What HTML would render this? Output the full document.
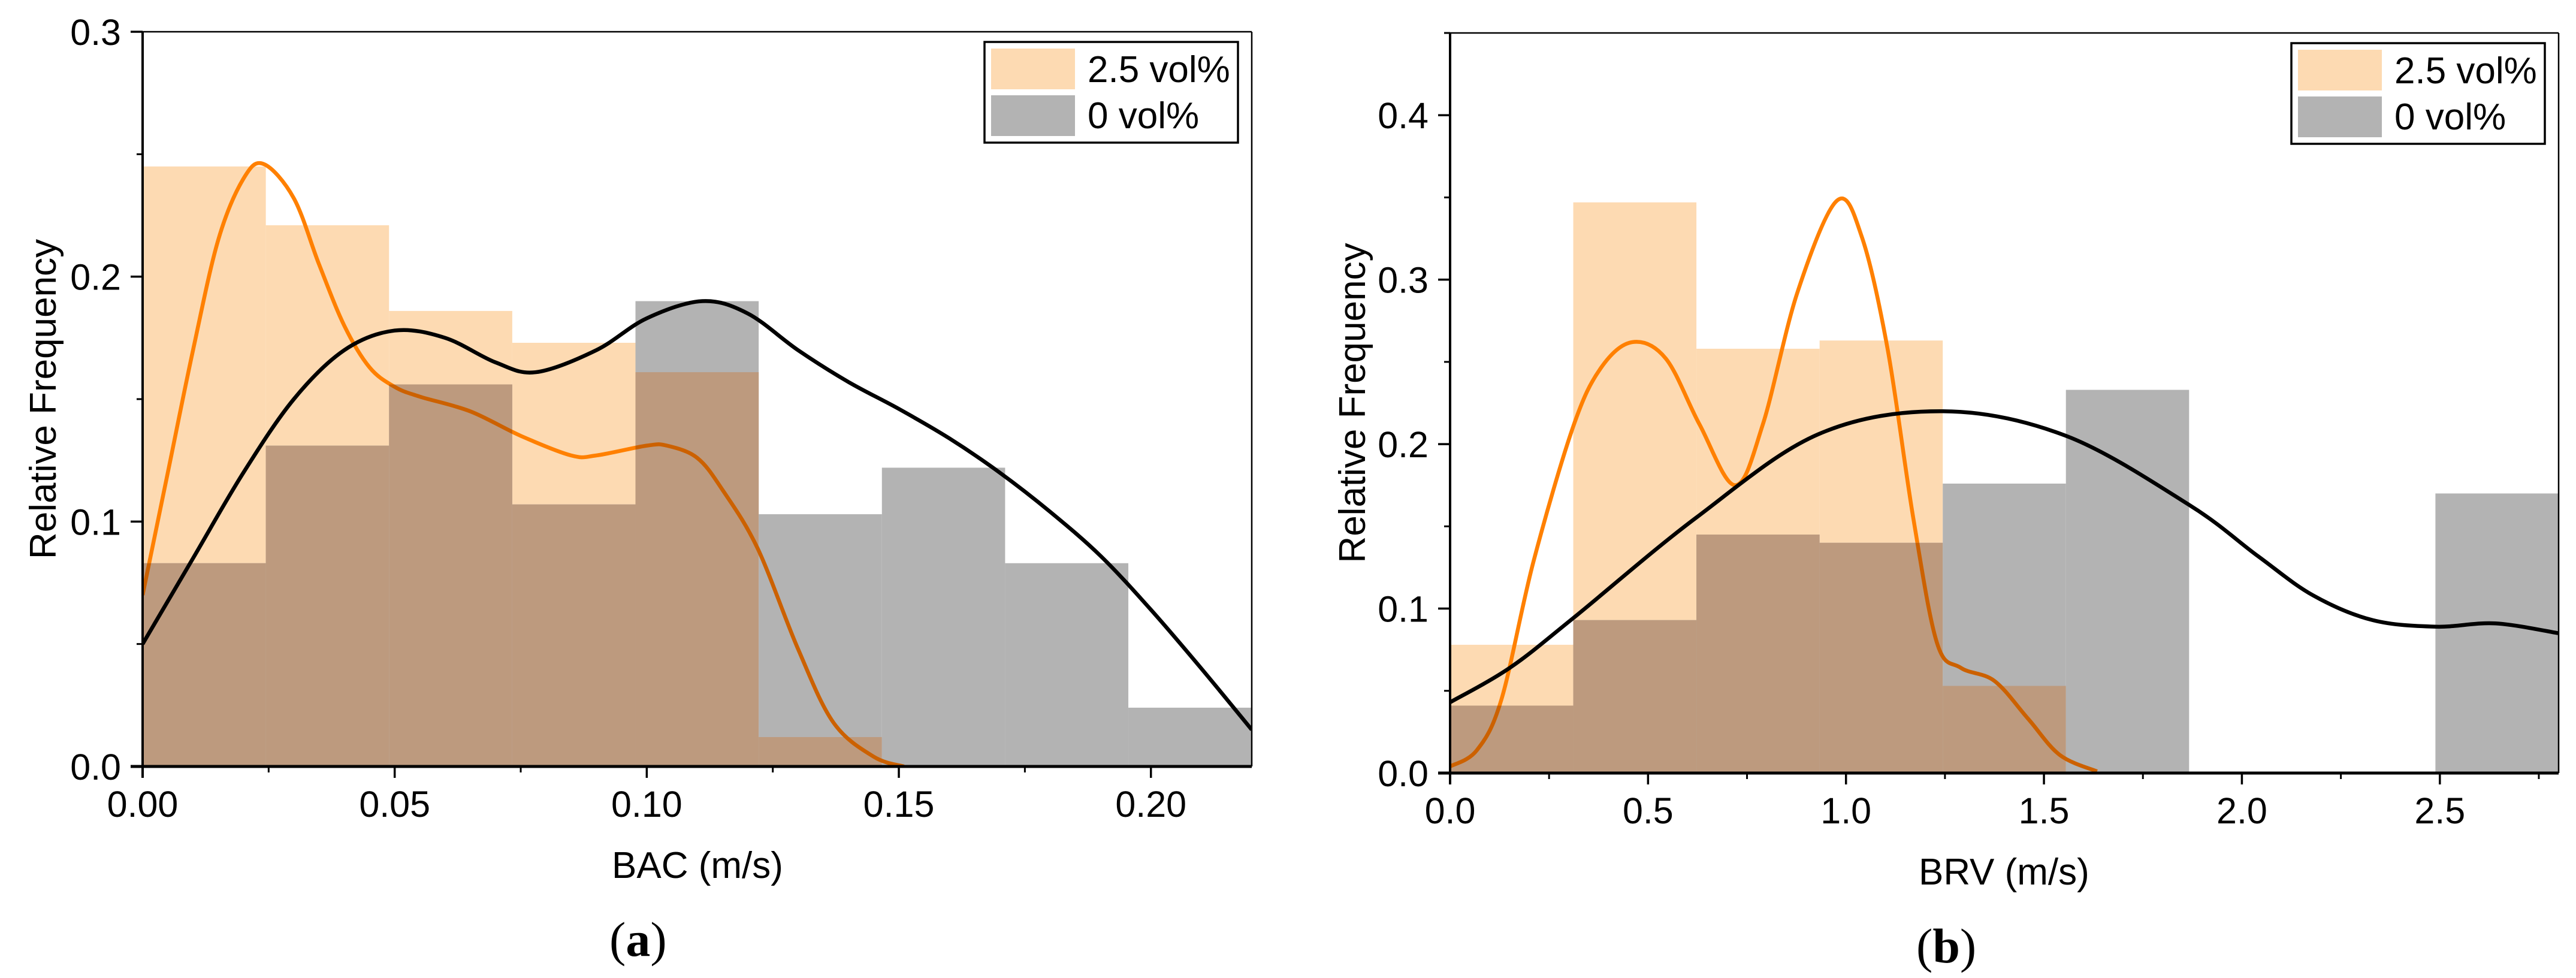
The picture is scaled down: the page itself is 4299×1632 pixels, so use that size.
<!DOCTYPE html>
<html><head><meta charset="utf-8"><style>
html,body{margin:0;padding:0;background:#fff;}
svg{display:block;}
text{font-family:"Liberation Sans",Arial,sans-serif;fill:#000;}
</style></head>
<body>
<svg id="fig" width="4299" height="1632" viewBox="0 0 4299 1632" xmlns="http://www.w3.org/2000/svg">
<defs></defs>
</svg>
<script>
// ---- Chart A data (BAC) ----
const aBinWidth = 0.02444;
const aOrangeHist = [0.245,0.221,0.186,0.173,0.161,0.012,0,0,0];
const aGrayHist = [0.083,0.131,0.156,0.107,0.190,0.103,0.122,0.083,0.024];
const aOrangeCurveX = [0,0.005,0.01,0.015,0.02,0.024,0.03,0.035,0.04,0.045,0.05,0.055,0.065,0.075,0.085,0.09,0.1,0.104,0.11,0.115,0.122,0.13,0.137,0.145,0.151];
const aOrangeCurveY = [0.070,0.12,0.17,0.215,0.24,0.246,0.232,0.205,0.180,0.163,0.155,0.151,0.145,0.135,0.127,0.127,0.131,0.131,0.126,0.113,0.089,0.048,0.018,0.004,0];
const aBlackCurveX = [0,0.01,0.02,0.03,0.04,0.05,0.06,0.07,0.078,0.09,0.1,0.111,0.12,0.13,0.14,0.15,0.16,0.17,0.18,0.19,0.2,0.21,0.22];
const aBlackCurveY = [0.05,0.085,0.12,0.15,0.17,0.178,0.175,0.165,0.161,0.17,0.183,0.19,0.185,0.170,0.157,0.146,0.134,0.120,0.104,0.086,0.064,0.040,0.015];
const aXTicks = [0,0.05,0.10,0.15,0.20];
const aXTickLabels = ["0.00","0.05","0.10","0.15","0.20"];
const aYTicks = [0,0.1,0.2,0.3];
const aYTickLabels = ["0.0","0.1","0.2","0.3"];

// ---- Chart B data (BRV) ----
const bBinWidth = 0.3111;
const bOrangeHist = [0.078,0.347,0.258,0.263,0.053,0,0,0,0];
const bGrayHist = [0.041,0.093,0.145,0.140,0.176,0.233,0,0,0.170];
const bOrangeCurveX = [0,0.068,0.13,0.21,0.31,0.38,0.46,0.545,0.63,0.72,0.79,0.877,0.977,1.04,1.105,1.17,1.23,1.29,1.375,1.46,1.54,1.634];
const bOrangeCurveY = [0.004,0.014,0.045,0.128,0.21,0.246,0.262,0.252,0.212,0.175,0.212,0.292,0.348,0.326,0.258,0.155,0.079,0.064,0.056,0.033,0.011,0.001];
const bBlackCurveX = [0,0.151,0.31,0.62,0.93,1.245,1.556,1.867,2.04,2.18,2.33,2.49,2.64,2.8];
const bBlackCurveY = [0.043,0.064,0.094,0.155,0.206,0.22,0.205,0.163,0.132,0.108,0.093,0.089,0.091,0.085];
const bXTicks = [0,0.5,1.0,1.5,2.0,2.5];
const bXTickLabels = ["0.0","0.5","1.0","1.5","2.0","2.5"];
const bYTicks = [0,0.1,0.2,0.3,0.4];
const bYTickLabels = ["0.0","0.1","0.2","0.3","0.4"];

const NS = "http://www.w3.org/2000/svg";
const svg = document.getElementById('fig');
const defs = svg.querySelector('defs');
function mk(tag, attrs, parent){
  const e = document.createElementNS(NS, tag);
  for (const k in attrs) e.setAttribute(k, attrs[k]);
  (parent||svg).appendChild(e);
  return e;
}
function smooth(pts){
  let d = "M"+pts[0][0]+","+pts[0][1];
  for(let i=0;i<pts.length-1;i++){
    const p0=pts[Math.max(0,i-1)],p1=pts[i],p2=pts[i+1],p3=pts[Math.min(pts.length-1,i+2)];
    const c1x=p1[0]+(p2[0]-p0[0])/6, c1y=p1[1]+(p2[1]-p0[1])/6;
    const c2x=p2[0]-(p3[0]-p1[0])/6, c2y=p2[1]-(p3[1]-p1[1])/6;
    d+=" C"+c1x+","+c1y+" "+c2x+","+c2y+" "+p2[0]+","+p2[1];
  }
  return d;
}

function drawChart(cfg){
  const g = mk('g',{});
  
  
  const X = v => cfg.x0 + (v - 0)/(cfg.xmax) * (cfg.x1 - cfg.x0);
  const Y = v => cfg.y0 - v/cfg.ymax * (cfg.y0 - cfg.y1);
  const cp = mk('clipPath',{id:cfg.id+'-plotclip'},defs);
  mk('rect',{x:cfg.x0,y:cfg.y1,width:cfg.x1-cfg.x0,height:cfg.y0-cfg.y1},cp);
  const gc = mk('clipPath',{id:cfg.id+'-grayclip'},defs);
  cfg.orange.forEach((v,i)=>{
    if(v<=0) return;
    const r = mk('rect',{x:X(i*cfg.bw),y:Y(v),width:X((i+1)*cfg.bw)-X(i*cfg.bw),height:Y(0)-Y(v),fill:'#FDDAB2'},g);
    
    
  });
  const oPts = cfg.ocx.map((x,i)=>[X(x),Y(cfg.ocy[i])]);
  const oc = mk('path',{d:smooth(oPts),fill:'none',stroke:'#FF8000','stroke-width':6.5,'clip-path':'url(#'+cfg.id+'-plotclip)'},g);
  
  
  cfg.gray.forEach((v,i)=>{
    if(v<=0) return;
    const xa=X(i*cfg.bw), w=X((i+1)*cfg.bw)-xa;
    const r = mk('rect',{x:xa,y:Y(v),width:w,height:Y(0)-Y(v),fill:'#B3B3B3'},g);
    
    
    mk('rect',{x:xa,y:Y(v),width:w,height:Y(0)-Y(v)},gc);
    const m = Math.min(v, cfg.orange[i]);
    if(m>0){
      const o = mk('rect',{x:xa,y:Y(m),width:w,height:Y(0)-Y(m),fill:'#BD9A7E'},g);
      
      
    }
  });
  const od = mk('path',{d:smooth(oPts),fill:'none',stroke:'#CC6100','stroke-width':6.5,'clip-path':'url(#'+cfg.id+'-grayclip)'},g);
  
  
  const bPts = cfg.bcx.map((x,i)=>[X(x),Y(cfg.bcy[i])]);
  const bc = mk('path',{d:smooth(bPts),fill:'none',stroke:'#000','stroke-width':6.5,'clip-path':'url(#'+cfg.id+'-plotclip)'},g);
  
  
  mk('line',{x1:cfg.x0,y1:cfg.y1,x2:cfg.x1,y2:cfg.y1,stroke:'#000','stroke-width':2.5},g);
  mk('line',{x1:cfg.x1,y1:cfg.y1,x2:cfg.x1,y2:cfg.y0,stroke:'#000','stroke-width':2.5},g);
  const xa = mk('line',{x1:cfg.x0-20,y1:cfg.y0,x2:cfg.x1,y2:cfg.y0,stroke:'#000','stroke-width':5},g);
  
  
  const ya = mk('line',{x1:cfg.x0,y1:cfg.y1,x2:cfg.x0,y2:cfg.y0+19,stroke:'#000','stroke-width':4},g);
  
  
  const xstep = cfg.xt[1]-cfg.xt[0];
  for(let v=xstep/2; v<cfg.xmax+1e-9; v+=xstep){
    mk('line',{x1:X(v),y1:cfg.y0,x2:X(v),y2:cfg.y0+10,stroke:'#000','stroke-width':3},g);
  }
  cfg.xt.forEach((v,i)=>{
    mk('line',{x1:X(v),y1:cfg.y0,x2:X(v),y2:cfg.y0+19,stroke:'#000','stroke-width':3.5},g);
    const t = mk('text',{x:X(v),y:cfg.y0+84,'font-size':61,'text-anchor':'middle'},g);
    t.textContent = cfg.xl[i];
    
    
  });
  const ystep = cfg.yt[1]-cfg.yt[0];
  for(let v=ystep/2; v<cfg.ymax+1e-9; v+=ystep){
    mk('line',{x1:cfg.x0-10,y1:Y(v),x2:cfg.x0,y2:Y(v),stroke:'#000','stroke-width':3},g);
  }
  cfg.yt.forEach((v,i)=>{
    mk('line',{x1:cfg.x0-20,y1:Y(v),x2:cfg.x0,y2:Y(v),stroke:'#000','stroke-width':3.5},g);
    const t = mk('text',{x:cfg.x0-36,y:Y(v)+22,'font-size':61,'text-anchor':'end'},g);
    t.textContent = cfg.yl[i];
    
    
  });
  const xt = mk('text',{x:cfg.xtx,y:cfg.xty,'font-size':62},g);
  xt.textContent = cfg.xtitle;
  
  
  const yc = (cfg.y0+cfg.y1)/2;
  const yt = mk('text',{x:0,y:0,'font-size':62,'text-anchor':'middle',transform:'translate('+cfg.ytx+','+yc+') rotate(-90)'},g);
  yt.textContent = 'Relative Frequency';
  
  
  const lx = cfg.x1-23-423, ly = cfg.y1+17;
  const lg = mk('g',{},g);
  
  
  mk('rect',{x:lx,y:ly,width:423,height:168,fill:'#fff',stroke:'#000','stroke-width':3.5},lg);
  mk('rect',{x:lx+11,y:ly+11,width:140,height:68,fill:'#FDDAB2'},lg);
  mk('rect',{x:lx+11,y:ly+89,width:140,height:68,fill:'#B3B3B3'},lg);
  const l1 = mk('text',{x:lx+172,y:ly+67,'font-size':62},lg);
  l1.textContent='2.5 vol%';
  
  
  const l2 = mk('text',{x:lx+172,y:ly+144,'font-size':62},lg);
  l2.textContent='0 vol%';
  
  
  const pl = mk('text',{x:cfg.plx,y:cfg.ply,'font-size':82,style:'font-family:"Liberation Serif",serif'},g);
  const t1 = mk('tspan',{},pl); t1.textContent='(';
  const t2 = mk('tspan',{'font-weight':'bold'},pl); t2.textContent=cfg.letter;
  const t3 = mk('tspan',{},pl); t3.textContent=')';
  
  
}

drawChart({id:'a',x0:238,x1:2089,y0:1279,y1:53,xmax:0.22,ymax:0.3,bw:aBinWidth,
  orange:aOrangeHist,gray:aGrayHist,ocx:aOrangeCurveX,ocy:aOrangeCurveY,bcx:aBlackCurveX,bcy:aBlackCurveY,
  xt:aXTicks,xl:aXTickLabels,yt:aYTicks,yl:aYTickLabels,xtitle:'BAC (m/s)',xtx:1021,xty:1465,ytx:93,
  plx:1017,ply:1595,letter:'a'});
drawChart({id:'b',x0:2420,x1:4270,y0:1290,y1:55,xmax:2.8,ymax:0.45,bw:bBinWidth,
  orange:bOrangeHist,gray:bGrayHist,ocx:bOrangeCurveX,ocy:bOrangeCurveY,bcx:bBlackCurveX,bcy:bBlackCurveY,
  xt:bXTicks,xl:bXTickLabels,yt:bYTicks,yl:bYTickLabels,xtitle:'BRV (m/s)',xtx:3202,xty:1476,ytx:2278,
  plx:3198,ply:1606,letter:'b'});
</script>
</body></html>
